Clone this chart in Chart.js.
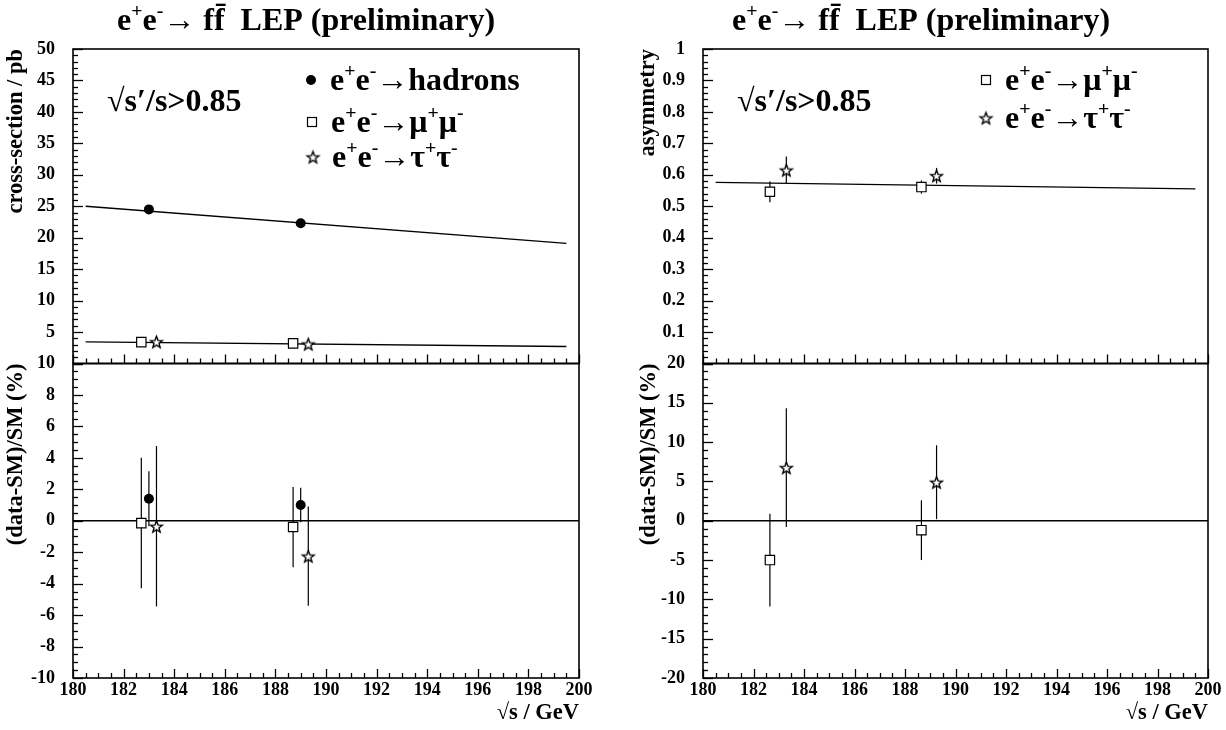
<!DOCTYPE html>
<html>
<head>
<meta charset="utf-8">
<script src="https://cdn.jsdelivr.net/npm/chart.js@4.4.0/dist/chart.umd.min.js"></script>
<style>
  html, body { margin: 0; padding: 0; background: #fff; }
  #wrap { position: relative; width: 1226px; height: 730px; }
  .box { position: absolute; top: 0; width: 613px; height: 730px; }
</style>
</head>
<body>
<div id="wrap">
  <div class="box" style="left:0"><canvas id="left" width="613" height="730"></canvas></div>
  <div class="box" style="left:613px"><canvas id="right" width="613" height="730"></canvas></div>
</div>
<script>
const SERIF = '"Liberation Serif", "DejaVu Serif", serif';

// sqrt(s) axis
const xMin = 180, xMax = 200, xStep = 2;

// cross-sections (pb)
const hadX = [183.0, 189.0];
const hadSigma = [24.5, 22.3];
const muX = [182.7, 188.7];
const muSigma = [3.4, 3.2];
const tauX = [183.3, 189.3];
const tauSigma = [3.45, 3.1];
const smX = [180.5, 199.5];
const smHadSigma = [25.0, 19.1];
const smMuSigma = [3.45, 2.7];

// (data-SM)/SM in % for the cross-sections
const hadDev = [1.4, 1.0];
const hadDevErr = [1.75, 1.1];
const muDev = [-0.15, -0.4];
const muDevErr = [4.15, 2.55];
const tauDev = [-0.35, -2.25];
const tauDevErr = [5.1, 3.15];

// forward-backward asymmetries
const muAfbX = [182.65, 188.65];
const muAfb = [0.546, 0.561];
const muAfbErr = [0.033, 0.021];
const tauAfbX = [183.3, 189.25];
const tauAfb = [0.615, 0.597];
const tauAfbErr = [0.043, 0.025];
const smAfb = [0.576, 0.555];

// (data-SM)/SM in % for the asymmetries
const muAfbDev = [-5.0, -1.2];
const muAfbDevErr = [5.9, 3.8];
const tauAfbDev = [6.75, 4.9];
const tauAfbDevErr = [7.55, 4.7];

const zeroX = [180, 200];
const zeroY = [0, 0];

function pts(xs, ys) {
  return xs.map((x, i) => ({ x: x, y: ys[i] }));
}

// open five-pointed star used as marker
function makeStar() {
  const c = document.createElement('canvas');
  c.width = 17; c.height = 17;
  const g = c.getContext('2d');
  g.beginPath();
  for (let k = 0; k < 10; k++) {
    const r = k % 2 ? 2.6 : 6.2;
    const a = -Math.PI / 2 + k * Math.PI / 5;
    g.lineTo(8.5 + r * Math.cos(a), 9.2 + r * Math.sin(a));
  }
  g.closePath();
  g.fillStyle = '#fff';
  g.fill();
  g.lineWidth = 1.4;
  g.strokeStyle = '#000';
  g.stroke();
  return c;
}
const STAR = makeStar();

const E_PLUS_E_MINUS = [['e'], ['+', 1], ['e'], ['-', 1]];

function richText(ctx, parts, x, y, size) {
  let cx = x;
  for (const [t, sup] of parts) {
    const fs = sup ? size * 0.62 : size;
    ctx.font = 'bold ' + fs + 'px ' + SERIF;
    ctx.fillText(t, cx, sup ? y - size * 0.42 : y);
    cx += ctx.measureText(t).width;
  }
  return cx - x;
}

function measureRich(ctx, parts, size) {
  let w = 0;
  for (const [t, sup] of parts) {
    ctx.font = 'bold ' + (sup ? size * 0.62 : size) + 'px ' + SERIF;
    w += ctx.measureText(t).width;
  }
  return w;
}

function drawMarker(ctx, kind, x, y) {
  ctx.save();
  ctx.strokeStyle = '#000';
  ctx.lineWidth = 1.2;
  if (kind === 'circle') {
    ctx.fillStyle = '#000';
    ctx.beginPath();
    ctx.arc(x, y, 5, 0, Math.PI * 2);
    ctx.fill();
  } else if (kind === 'rect') {
    ctx.fillStyle = '#fff';
    ctx.fillRect(x - 4.5, y - 4.5, 9, 9);
    ctx.strokeRect(x - 4.5, y - 4.5, 9, 9);
  } else {
    ctx.drawImage(STAR, x - STAR.width / 2, y - STAR.height / 2);
  }
  ctx.restore();
}

const panelDecor = {
  id: 'panelDecor',
  beforeDatasetsDraw(chart) {
    const ctx = chart.ctx;
    const xs = chart.scales.x;
    ctx.save();
    ctx.strokeStyle = '#000';
    ctx.lineWidth = 1.2;
    chart.data.datasets.forEach(ds => {
      if (!ds.errors) return;
      const ys = chart.scales[ds.yAxisID];
      ds.data.forEach((p, i) => {
        const px = xs.getPixelForValue(p.x);
        ctx.beginPath();
        ctx.moveTo(px, ys.getPixelForValue(p.y + ds.errors[i]));
        ctx.lineTo(px, ys.getPixelForValue(p.y - ds.errors[i]));
        ctx.stroke();
      });
    });
    ctx.restore();
  },
  afterDatasetsDraw(chart, args, opts) {
    const ctx = chart.ctx;
    const { left, right } = chart.chartArea;
    const xs = chart.scales.x;
    ctx.save();
    ctx.strokeStyle = '#000';
    opts.panels.forEach(pn => {
      const ys = chart.scales[pn.id];
      // inward ticks on the left axis
      ctx.lineWidth = 1.3;
      const n = Math.round((ys.max - ys.min) / pn.minor);
      for (let k = 0; k <= n; k++) {
        const v = ys.min + k * pn.minor;
        const r = v / pn.major;
        const major = Math.abs(r - Math.round(r)) < 1e-6;
        const py = Math.round(ys.getPixelForValue(v)) + 0.5;
        ctx.beginPath();
        ctx.moveTo(left, py);
        ctx.lineTo(left + (major ? 10 : 5), py);
        ctx.stroke();
      }
      // inward ticks on the bottom edge of the panel
      const nx = Math.round((xMax - xMin) / 0.5);
      for (let k = 0; k <= nx; k++) {
        const v = xMin + k * 0.5;
        const major = (k % 4) === 0;
        const px = Math.round(xs.getPixelForValue(v)) + 0.5;
        ctx.beginPath();
        ctx.moveTo(px, ys.bottom);
        ctx.lineTo(px, ys.bottom - (major ? 9 : 5));
        ctx.stroke();
      }
      ctx.lineWidth = 1.6;
      ctx.strokeRect(left, ys.top, right - left, ys.bottom - ys.top);
    });
    ctx.restore();
  },
  afterDraw(chart, args, opts) {
    const ctx = chart.ctx;
    ctx.save();
    ctx.fillStyle = '#000';
    ctx.textBaseline = 'alphabetic';
    ctx.textAlign = 'left';
    // heading
    const tw = measureRich(ctx, opts.heading, 32);
    richText(ctx, opts.heading, opts.headingX - tw / 2, 30, 32);
    // cut annotation
    richText(ctx, [['√s′/s>0.85']], opts.cutX, 111, 32);
    // legend
    opts.legend.forEach(it => {
      drawMarker(ctx, it.marker, it.x, it.y);
      richText(ctx, it.parts, it.x + 19, it.y + 10, 32);
    });
    ctx.restore();
  }
};

function tickFont() {
  return { family: SERIF, weight: 'bold', size: 18 };
}

function yScale(cfg) {
  return {
    type: 'linear',
    position: 'left',
    stack: 'panels',
    stackWeight: 1,
    min: cfg.min,
    max: cfg.max,
    grid: { display: false, drawTicks: false },
    border: { display: false },
    ticks: {
      stepSize: cfg.step,
      autoSkip: false,
      padding: 18,
      color: '#000',
      font: tickFont(),
      callback: cfg.hideMin ? (v => (Math.abs(v - cfg.min) < 1e-9 ? '' : v)) : undefined
    },
    title: {
      display: true,
      text: cfg.title,
      align: 'end',
      color: '#000',
      font: { family: SERIF, weight: 'bold', size: 22.5 },
      padding: { top: cfg.titlePad, bottom: 0 }
    },
    afterFit(s) { s.width = cfg.width; }
  };
}

function makeChart(id, cfg) {
  return new Chart(document.getElementById(id), {
    type: 'scatter',
    data: { datasets: cfg.datasets },
    options: {
      responsive: false,
      animation: false,
      layout: { padding: { top: 49, right: cfg.padRight, left: 0, bottom: 0 } },
      scales: {
        x: {
          type: 'linear',
          min: xMin,
          max: xMax,
          grid: { display: false, drawTicks: false },
          border: { display: false },
          ticks: { stepSize: xStep, autoSkip: false, padding: 2, color: '#000', font: tickFont(), maxRotation: 0 },
          title: {
            display: true,
            text: '√s / GeV',
            align: 'end',
            color: '#000',
            font: { family: SERIF, weight: 'bold', size: 22.5 },
            padding: { top: 0, bottom: 3 }
          },
          afterFit(s) { s.height = 52; }
        },
        yBot: yScale(cfg.bot),
        yTop: yScale(cfg.top)
      },
      plugins: {
        legend: { display: false },
        tooltip: { enabled: false },
        panelDecor: {
          panels: [
            { id: 'yTop', major: cfg.top.step, minor: cfg.top.minor },
            { id: 'yBot', major: cfg.bot.step, minor: cfg.bot.minor }
          ],
          heading: cfg.heading,
          headingX: cfg.headingX,
          cutX: cfg.cutX,
          legend: cfg.legend
        }
      }
    },
    plugins: [panelDecor]
  });
}

function smLine(xs, ys, axis) {
  return {
    data: pts(xs, ys), yAxisID: axis, showLine: true, pointRadius: 0,
    borderColor: '#000', borderWidth: 1.3, order: 5
  };
}
function circles(xs, ys, axis, errs) {
  return {
    data: pts(xs, ys), yAxisID: axis, errors: errs, pointStyle: 'circle', pointRadius: 5,
    backgroundColor: '#000', borderColor: '#000', borderWidth: 0, order: 1
  };
}
function squares(xs, ys, axis, errs) {
  return {
    data: pts(xs, ys), yAxisID: axis, errors: errs, pointStyle: 'rect', pointRadius: 6.6,
    backgroundColor: '#fff', borderColor: '#000', borderWidth: 1.2, order: 1
  };
}
function stars(xs, ys, axis, errs) {
  return {
    data: pts(xs, ys), yAxisID: axis, errors: errs, pointStyle: STAR, pointRadius: 7, order: 1
  };
}

const heading = E_PLUS_E_MINUS.concat([['→ ff\u0304  LEP (preliminary)']]);
const hadLabel = E_PLUS_E_MINUS.concat([['→hadrons']]);
const muLabel = E_PLUS_E_MINUS.concat([['→μ'], ['+', 1], ['μ'], ['-', 1]]);
const tauLabel = E_PLUS_E_MINUS.concat([['→τ'], ['+', 1], ['τ'], ['-', 1]]);

makeChart('left', {
  padRight: 34,
  heading: heading,
  headingX: 306,
  cutX: 107,
  top: { min: 0, max: 50, step: 5, minor: 1, hideMin: true, title: 'cross-section / pb', width: 73, titlePad: 3 },
  bot: { min: -10, max: 10, step: 2, minor: 0.5, title: '(data-SM)/SM (%)', width: 73, titlePad: 3 },
  legend: [
    { marker: 'circle', x: 311, y: 80, parts: hadLabel },
    { marker: 'rect', x: 312, y: 122, parts: muLabel },
    { marker: 'star', x: 313, y: 157, parts: tauLabel }
  ],
  datasets: [
    smLine(smX, smHadSigma, 'yTop'),
    smLine(smX, smMuSigma, 'yTop'),
    circles(hadX, hadSigma, 'yTop'),
    squares(muX, muSigma, 'yTop'),
    stars(tauX, tauSigma, 'yTop'),
    smLine(zeroX, zeroY, 'yBot'),
    circles(hadX, hadDev, 'yBot', hadDevErr),
    squares(muX, muDev, 'yBot', muDevErr),
    stars(tauX, tauDev, 'yBot', tauDevErr)
  ]
});

makeChart('right', {
  padRight: 18,
  heading: heading,
  headingX: 308,
  cutX: 124,
  top: { min: 0, max: 1, step: 0.1, minor: 0.02, hideMin: true, title: 'asymmetry', width: 90, titlePad: 22 },
  bot: { min: -20, max: 20, step: 5, minor: 1, title: '(data-SM)/SM (%)', width: 90, titlePad: 23 },
  legend: [
    { marker: 'rect', x: 373, y: 80, parts: muLabel },
    { marker: 'star', x: 373, y: 118, parts: tauLabel }
  ],
  datasets: [
    smLine(smX, smAfb, 'yTop'),
    squares(muAfbX, muAfb, 'yTop', muAfbErr),
    stars(tauAfbX, tauAfb, 'yTop', tauAfbErr),
    smLine(zeroX, zeroY, 'yBot'),
    squares(muAfbX, muAfbDev, 'yBot', muAfbDevErr),
    stars(tauAfbX, tauAfbDev, 'yBot', tauAfbDevErr)
  ]
});
</script>
</body>
</html>
